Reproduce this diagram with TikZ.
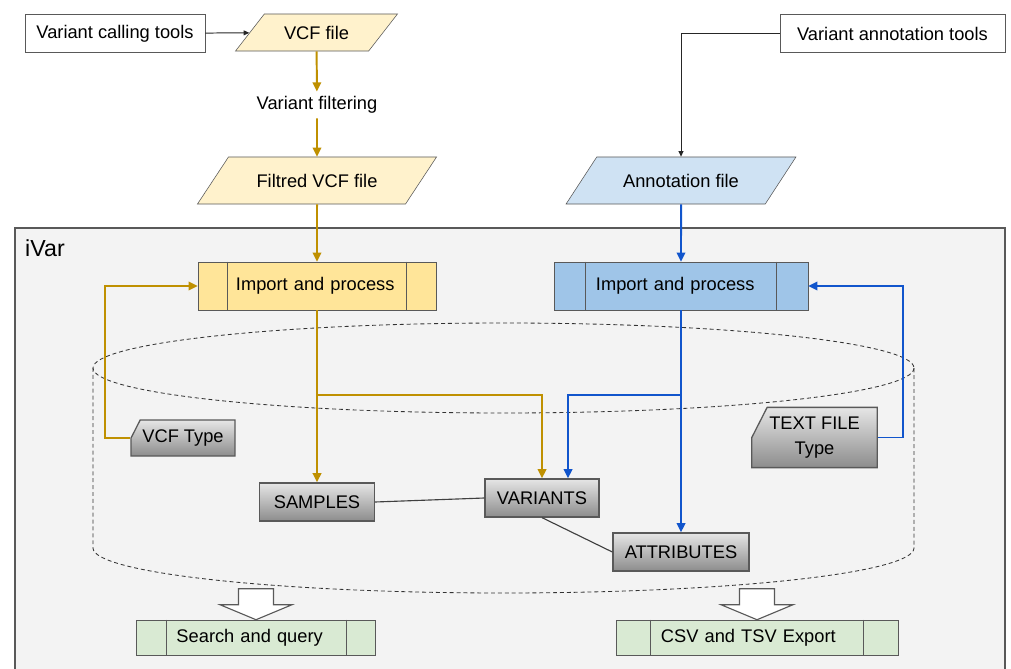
\documentclass[tikz,border=0pt]{standalone}
\usepackage{fontspec}
\setmainfont{Liberation Sans}
\usetikzlibrary{shapes.geometric,shapes.misc,arrows.meta,calc}

\definecolor{gold}{HTML}{BF9000}
\definecolor{lineblue}{HTML}{1155CC}
\definecolor{vcffill}{HTML}{FFF2CC}
\definecolor{vcfproc}{HTML}{FFE599}
\definecolor{annfill}{HTML}{CFE2F3}
\definecolor{annproc}{HTML}{9FC5E8}
\definecolor{outfill}{HTML}{D9EAD3}
\definecolor{ivarbg}{HTML}{F3F3F3}
\definecolor{edge}{HTML}{595959}

\begin{document}
\begin{tikzpicture}[x=0.025cm,y=-0.025cm,every node/.style={font=\fontsize{13}{15.5}\selectfont}]
        \tikzstyle{tool}=[rectangle,draw=edge,fill=white,minimum height=0.95cm]
        \tikzstyle{datafile}=[trapezium,trapezium left angle=48,trapezium right angle=132,trapezium stretches=true,draw=edge]
        \tikzstyle{procbox}=[rectangle,draw=edge,minimum height=1.2cm,align=left]
        \tikzstyle{entity}=[rectangle,draw=edge,line width=0.9pt,top color=black!10,middle color=white!92!black,bottom color=black!45,minimum height=0.95cm]
        \tikzstyle{card}=[chamfered rectangle,chamfered rectangle corners=north west,chamfered rectangle angle=27,draw=edge,line width=0.9pt,top color=black!10,middle color=white!92!black,bottom color=black!45]
        \tikzstyle{goldflow}=[draw=gold,line width=1.4pt,-{Triangle[length=6.5pt,width=6pt]}]
        \tikzstyle{blueflow}=[draw=lineblue,line width=1.4pt,-{Triangle[length=6.5pt,width=6pt]}]
        \tikzstyle{thinarrow}=[draw=black!85,line width=0.7pt,-{Triangle[length=4pt,width=3.5pt]}]
        \tikzstyle{link}=[draw=black!75,line width=0.8pt]
        \tikzstyle{db}=[draw=black!80,line width=0.6pt,dash pattern=on 2.8pt off 2.1pt]
        \useasboundingbox (0,0) rectangle (1011,669);
        % iVar frame
        \fill[ivarbg] (15,669) rectangle (1005,228);
        \draw[edge,line width=0.9pt] (15,669) -- (15,228) -- (1005,228) -- (1005,669);
        \node[font=\fontsize{16.5}{19}\selectfont] (ivar) at (45,248) {iVar};
        % database cylinder
        \draw[db] (503.5,368) ellipse [x radius=410.5,y radius=45];
        \draw[db] (93,368) -- (93,548) arc [start angle=180,end angle=0,x radius=410.5,y radius=45] -- (914,368);
        % inputs
        \node[tool,minimum width=4.5cm] (calltools) at (115,33.5) {Variant calling tools};
        \node[tool,minimum width=5.625cm] (anntools) at (892.5,33.5) {Variant annotation tools};
        \node[datafile,fill=vcffill,minimum width=4.075cm,minimum height=0.925cm] (vcf) at (316.5,32.5) {VCF file};
        \node (filtering) at (317,105) {Variant filtering};
        \node[datafile,fill=vcffill,trapezium left angle=45,trapezium right angle=135,minimum width=5.975cm,minimum height=1.175cm] (filtred) at (317,180.5) {Filtred VCF file};
        \node[datafile,fill=annfill,trapezium left angle=45,trapezium right angle=135,minimum width=5.75cm,minimum height=1.175cm] (annot) at (681,180.5) {Annotation file};
        % processes
        \node[procbox,fill=vcfproc,text width=4.05cm,inner xsep=0.95cm] (importvcf) at (317,286) {Import and process};
        \node[procbox,fill=annproc,text width=4.25cm,inner xsep=1.05cm] (importann) at (681,286) {Import and process};
        \node[procbox,fill=outfill,text width=3.975cm,inner xsep=1cm,minimum height=0.875cm] (search) at (256,637.5) {Search and query};
        \node[procbox,fill=outfill,text width=4.8cm,inner xsep=1.125cm,minimum height=0.875cm] (export) at (757,637.5) {CSV and TSV Export};
        \foreach \n/\d in {importvcf/30,importann/32,search/30,export/35}
          \draw[edge] ($(\n.north west)+(\d,0)$) -- ($(\n.south west)+(\d,0)$)
                      ($(\n.north east)+(-\d,0)$) -- ($(\n.south east)+(-\d,0)$);
        % tables and types
        \node[entity,minimum width=2.875cm] (samples) at (317,502) {SAMPLES};
        \node[entity,minimum width=2.85cm] (variants) at (542,498) {VARIANTS};
        \node[entity,minimum width=3.4cm] (attributes) at (681,552) {ATTRIBUTES};
        \node[card,minimum width=2.375cm,minimum height=0.9cm,chamfered rectangle xsep=0.55cm] (vcftype) at (183,438) {VCF Type};
        \node[card,align=center,minimum width=3.025cm,minimum height=1.3cm,chamfered rectangle xsep=0.65cm] (textfile) at (814.5,437.5) {TEXT FILE\\[2pt]Type};
        \coordinate (goldsplit) at (317,395);
        \coordinate (bluesplit) at (681,395);
        % connectors
        \draw[thinarrow] (calltools) -- (vcf);
        \draw[thinarrow] (anntools.west) -| (annot);
        \draw[goldflow] (vcf) -- (filtering);
        \draw[goldflow] (filtering) -- (filtred);
        \draw[goldflow] (filtred) -- (importvcf);
        \draw[blueflow] (annot) -- (importann);
        \draw[goldflow] (vcftype.west) -- ++(-25,0) |- (importvcf.west);
        \draw[blueflow] (textfile.east) -- ++(25,0) |- (importann.east);
        \draw[goldflow] (importvcf.south) -- (samples.north);
        \draw[goldflow] (goldsplit) -| (variants.north);
        \draw[blueflow] (importann.south) -- (attributes.north);
        \draw[blueflow] (bluesplit) -| ($(variants.north)+(26,0)$);
        \draw[link] (samples.east) -- (variants.west);
        \draw[link] (variants.south) -- (attributes.west);
        % output arrows
        \foreach \n in {search,export}
          \draw[edge,fill=white,line width=0.8pt] (\n.north) -- ++(-36,-15) -- ++(18.5,0) -- ++(0,-16)
                -- ++(35,0) -- ++(0,16) -- ++(18.5,0) -- cycle;
\end{tikzpicture}
\end{document}
